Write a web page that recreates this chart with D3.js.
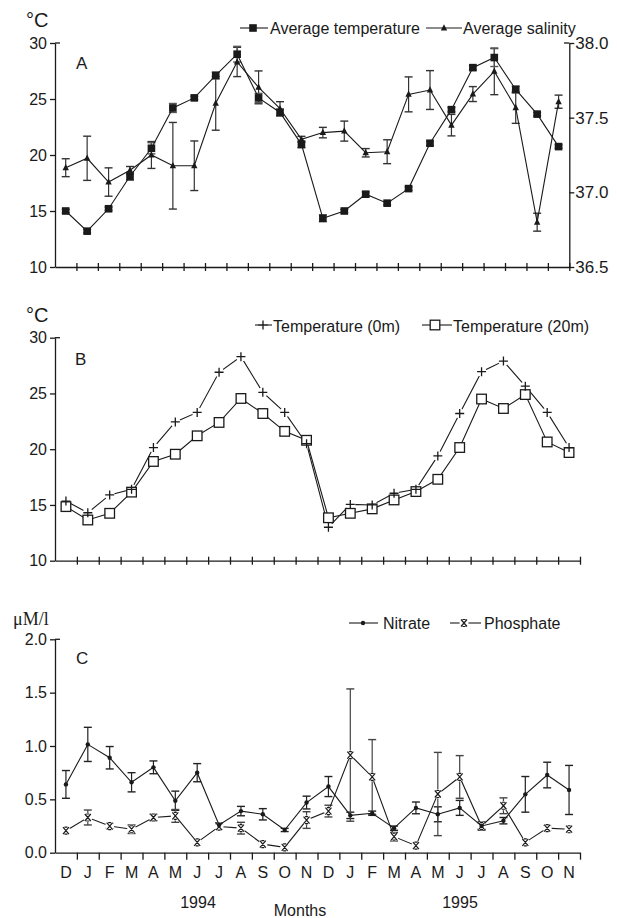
<!DOCTYPE html>
<html>
<head>
<meta charset="utf-8">
<script src="https://cdn.jsdelivr.net/npm/d3@7"></script>
<style>
  body { margin: 0; background: #fff; }
  svg text { font-family: "Liberation Sans", Arial, sans-serif; fill: #1a1a1a; }
</style>
</head>
<body>
<svg id="chart" width="617" height="918"></svg>
<script>
// months Dec 1993 .. Nov 1995
var months = ["D","J","F","M","A","M","J","J","A","S","O","N","D","J","F","M","A","M","J","J","A","S","O","N"];

// panel A
var avgTemp    = [15.0, 13.2, 15.2, 18.1, 20.6, 24.2, 25.1, 27.1, 29.0, 25.1, 23.8, 20.95,
                  14.35, 15.0, 16.5, 15.7, 17.0, 21.05, 24.05, 27.8, 28.7, 25.85, 23.65, 20.75];
var avgTempErr = [0.15, 0.15, 0.15, 0.35, 0.5, 0.4, 0.15, 0.3, 0.7, 0.4, 0.3, 0.3,
                  0.3, 0.15, 0.2, 0.15, 0.15, 0.2, 0.2, 0.2, 0.8, 0.3, 0.15, 0.15];
var avgSal     = [37.165, 37.228, 37.069, 37.148, 37.25, 37.178, 37.178, 37.596, 37.873, 37.703, 37.56, 37.355,
                  37.40, 37.41, 37.265, 37.272, 37.656, 37.685, 37.45, 37.658, 37.81, 37.567, 36.80, 37.607];
var avgSalErr  = [0.06, 0.148, 0.095, 0.025, 0.09, 0.29, 0.166, 0.18, 0.098, 0.11, 0.047, 0.02,
                  0.035, 0.067, 0.028, 0.08, 0.117, 0.13, 0.072, 0.05, 0.156, 0.105, 0.06, 0.044];

// panel B
var temp0m  = [15.35, 14.3, 15.9, 16.4, 20.15, 22.45, 23.3, 26.9, 28.3, 25.1, 23.3, 20.5,
               13.0, 15.05, 15.0, 16.05, 16.4, 19.4, 23.2, 26.95, 27.9, 25.65, 23.3, 20.15];
var temp20m = [14.85, 13.65, 14.25, 16.15, 18.9, 19.55, 21.2, 22.4, 24.55, 23.2, 21.6, 20.8,
               13.85, 14.25, 14.65, 15.45, 16.2, 17.3, 20.15, 24.5, 23.65, 24.9, 20.65, 19.7];

// panel C
var nitrate      = [0.64, 1.015, 0.89, 0.66, 0.80, 0.487, 0.75, 0.26, 0.39, 0.36, 0.213, 0.47,
                    0.62, 0.35, 0.37, 0.23, 0.42, 0.36, 0.42, 0.25, 0.30, 0.547, 0.728, 0.588];
var nitrateErr   = [0.13, 0.16, 0.105, 0.09, 0.06, 0.09, 0.085, 0.02, 0.044, 0.053, 0.015, 0.06,
                    0.094, 0.03, 0.02, 0.02, 0.055, 0.07, 0.07, 0.03, 0.03, 0.167, 0.12, 0.23];
var phosphate    = [0.206, 0.33, 0.25, 0.22, 0.33, 0.345, 0.097, 0.245, 0.23, 0.08, 0.05, 0.306,
                    0.39, 0.915, 0.71, 0.15, 0.066, 0.55, 0.71, 0.25, 0.44, 0.097, 0.23, 0.22];
var phosphateErr = [0.01, 0.07, 0.02, 0.04, 0.03, 0.06, 0.01, 0.02, 0.055, 0.01, 0.01, 0.078,
                    0.055, 0.62, 0.35, 0.04, 0.01, 0.39, 0.2, 0.04, 0.074, 0.01, 0.02, 0.01];

var tempTicks = [10, 15, 20, 25, 30];
var salTicks = [36.5, 37.0, 37.5, 38.0];
var nutTicks = [0, 0.5, 1.0, 1.5, 2.0];

var svg = d3.select("#chart");
var ink = "#1a1a1a";

// ---------- helpers ----------
function bandX(x0, x1) {
    return d3.scaleBand().domain(d3.range(months.length)).range([x0, x1]).padding(0);
}

function monthAxis(x0, x1, yPos, up, down) {
    var s = d3.scaleLinear().domain([0, months.length]).range([x0, x1]);
    var g = svg.append("g").attr("transform", "translate(0," + yPos + ")")
        .call(d3.axisBottom(s).tickValues(d3.range(1, months.length + 1)).tickFormat("").tickSizeOuter(0));
    g.select(".domain").attr("stroke", ink).attr("stroke-width", 1.3);
    g.selectAll(".tick line").attr("stroke", ink).attr("stroke-width", 1.3)
        .attr("y1", -up).attr("y2", down);
    return g;
}

function leftAxis(y, ticks, xPos, fmt) {
    var g = svg.append("g").attr("transform", "translate(" + xPos + ",0)")
        .call(d3.axisLeft(y).tickValues(ticks).tickSize(5).tickPadding(3).tickSizeOuter(0).tickFormat(fmt));
    g.select(".domain").attr("stroke", ink).attr("stroke-width", 1.3);
    g.selectAll(".tick line").attr("stroke", ink).attr("stroke-width", 1.3);
    g.selectAll(".tick text").style("font-size", "16px").attr("fill", ink);
    // cap at the top of the axis
    var top = y(ticks[ticks.length - 1]);
    svg.append("line").attr("x1", xPos).attr("x2", xPos + 5).attr("y1", top).attr("y2", top)
        .attr("stroke", ink).attr("stroke-width", 1.3);
    return g;
}

function errorBars(g, x, y, vals, errs, color) {
    var cap = 4;
    vals.forEach(function (v, i) {
        var cx = x(i) + x.bandwidth() / 2;
        var yt = y(v + errs[i]), yb = y(v - errs[i]);
        if (yb - yt < 2) return;
        g.append("line").attr("x1", cx).attr("x2", cx).attr("y1", yt).attr("y2", yb)
            .attr("stroke", color).attr("stroke-width", 1.2);
        [yt, yb].forEach(function (yy) {
            g.append("line").attr("x1", cx - cap).attr("x2", cx + cap).attr("y1", yy).attr("y2", yy)
                .attr("stroke", color).attr("stroke-width", 1.4);
        });
    });
}

function seriesLine(g, x, y, vals) {
    var line = d3.line()
        .x(function (d, i) { return x(i) + x.bandwidth() / 2; })
        .y(function (d) { return y(d); });
    g.append("path").datum(vals).attr("d", line)
        .attr("fill", "none").attr("stroke", ink).attr("stroke-width", 1.1);
}

function halos(g, x, y, vals, r) {
    g.selectAll(null).data(vals).enter().append("circle")
        .attr("cx", function (d, i) { return x(i) + x.bandwidth() / 2; })
        .attr("cy", function (d) { return y(d); })
        .attr("r", r).attr("fill", "#fff");
}

// marker symbols centred on 0,0
var mk = {
    square: function (g) {
        g.append("rect").attr("x", -3.8).attr("y", -3.8).attr("width", 7.6).attr("height", 7.6).attr("fill", ink);
    },
    triangle: function (g) {
        g.append("path").attr("d", "M0,-3.8L3.2,2.5L-3.2,2.5Z").attr("fill", ink);
    },
    plus: function (g) {
        g.append("path").attr("d", "M-4.5,0H4.5M0,-4.5V4.5").attr("stroke", ink).attr("stroke-width", 1.3);
    },
    openSquare: function (g) {
        g.append("rect").attr("x", -4.8).attr("y", -4.8).attr("width", 9.6).attr("height", 9.6)
            .attr("fill", "#fff").attr("stroke", ink).attr("stroke-width", 1.3);
    },
    dot: function (g) {
        g.append("circle").attr("r", 2.2).attr("fill", ink);
    },
    cross: function (g) {
        g.append("path").attr("d", "M-3,-3.5L3,3.5M3,-3.5L-3,3.5M-1.5,-3.5H1.5M-1.5,3.5H1.5")
            .attr("stroke", ink).attr("stroke-width", 1.2).attr("fill", "none");
    }
};

function markers(g, x, y, vals, shape) {
    vals.forEach(function (v, i) {
        var m = g.append("g").attr("transform", "translate(" + (x(i) + x.bandwidth() / 2) + "," + y(v) + ")");
        mk[shape](m);
    });
}

function legendItem(x0, x1, ly, mx, shape, label, tx, tyBase, halo) {
    svg.append("line").attr("x1", x0).attr("x2", x1).attr("y1", ly).attr("y2", ly)
        .attr("stroke", ink).attr("stroke-width", 1.1);
    if (halo) svg.append("circle").attr("cx", mx).attr("cy", ly).attr("r", halo).attr("fill", "#fff");
    var m = svg.append("g").attr("transform", "translate(" + mx + "," + ly + ")");
    mk[shape](m);
    svg.append("text").attr("x", tx).attr("y", tyBase).style("font-size", "16px").text(label);
}

function label(x, y, txt, size, family) {
    var t = svg.append("text").attr("x", x).attr("y", y).style("font-size", size + "px").text(txt);
    if (family) t.style("font-family", family);
}

// ---------- Panel A ----------
var xA = bandX(55, 569.3);
var yA = d3.scaleLinear().domain([10, 30]).range([267, 43]);
var ySal = d3.scaleLinear().domain([36.5, 38.0]).range([267, 43]);

monthAxis(55, 569.3, 267, 4, 4);
leftAxis(yA, tempTicks, 55, d3.format("d"));
var gR = svg.append("g").attr("transform", "translate(569.3,0)")
    .call(d3.axisRight(ySal).tickValues(salTicks).tickSize(5).tickPadding(1).tickSizeOuter(0).tickFormat(d3.format(".1f")));
gR.select(".domain").attr("stroke", ink).attr("stroke-width", 1.3);
gR.selectAll(".tick line").attr("stroke", ink).attr("stroke-width", 1.3);
gR.selectAll(".tick text").style("font-size", "17px").attr("fill", ink);
svg.append("line").attr("x1", 564).attr("x2", 569.3).attr("y1", 43).attr("y2", 43).attr("stroke", ink).attr("stroke-width", 1.3);

var gA = svg.append("g");
errorBars(gA, xA, ySal, avgSal, avgSalErr, "#333");
errorBars(gA, xA, yA, avgTemp, avgTempErr, "#555");
seriesLine(gA, xA, ySal, avgSal);
seriesLine(gA, xA, yA, avgTemp);
markers(gA, xA, ySal, avgSal, "triangle");
markers(gA, xA, yA, avgTemp, "square");

label(26, 27, "\u00b0C", 20);
label(76, 69, "A", 17);
legendItem(240, 268, 28, 253, "square", "Average temperature", 270, 34);
legendItem(426, 462, 28, 444, "triangle", "Average salinity", 463, 34);

// ---------- Panel B ----------
var xB = bandX(55, 580);
var yB = d3.scaleLinear().domain([10, 30]).range([560.7, 337.7]);

monthAxis(55, 580, 560.7, 4, 4);
leftAxis(yB, tempTicks, 55, d3.format("d"));

var gB = svg.append("g");
seriesLine(gB, xB, yB, temp0m);
halos(gB, xB, yB, temp0m, 5);
seriesLine(gB, xB, yB, temp20m);
markers(gB, xB, yB, temp20m, "openSquare");
markers(gB, xB, yB, temp0m, "plus");

label(26, 322, "\u00b0C", 20);
label(75, 365, "B", 17);
legendItem(255, 272, 325, 263, "plus", "Temperature (0m)", 273, 332, 4);
legendItem(422, 452, 325, 435, "openSquare", "Temperature (20m)", 453, 332);

// ---------- Panel C ----------
var xC = bandX(55, 580);
var yC = d3.scaleLinear().domain([0, 2]).range([852.7, 639.3]);

monthAxis(55, 580, 852.7, 0, 7);
leftAxis(yC, nutTicks, 55, d3.format(".1f"));

var gC = svg.append("g");
errorBars(gC, xC, yC, nitrate, nitrateErr, "#222");
errorBars(gC, xC, yC, phosphate, phosphateErr, "#444");
seriesLine(gC, xC, yC, phosphate);
halos(gC, xC, yC, phosphate, 4.5);
seriesLine(gC, xC, yC, nitrate);
markers(gC, xC, yC, phosphate, "cross");
markers(gC, xC, yC, nitrate, "dot");

// month letters
svg.append("g").selectAll("text").data(months).enter().append("text")
    .attr("x", function (d, i) { return xC(i) + xC.bandwidth() / 2; })
    .attr("y", 878).attr("text-anchor", "middle").style("font-size", "16px").text(function (d) { return d; });

svg.append("text").attr("x", 198).attr("y", 908).attr("text-anchor", "middle").style("font-size", "16px").text("1994");
svg.append("text").attr("x", 460).attr("y", 908).attr("text-anchor", "middle").style("font-size", "16px").text("1995");
svg.append("text").attr("x", 300).attr("y", 916).attr("text-anchor", "middle").style("font-size", "16px").text("Months");

label(13, 625, "\u03bcM/l", 18, "'Liberation Serif', 'Times New Roman', serif");
label(76, 664, "C", 17);
legendItem(349, 378, 623, 363, "dot", "Nitrate", 383, 629);
legendItem(450, 481, 623, 464, "cross", "Phosphate", 484, 629, 4.5);
</script>
</body>
</html>
